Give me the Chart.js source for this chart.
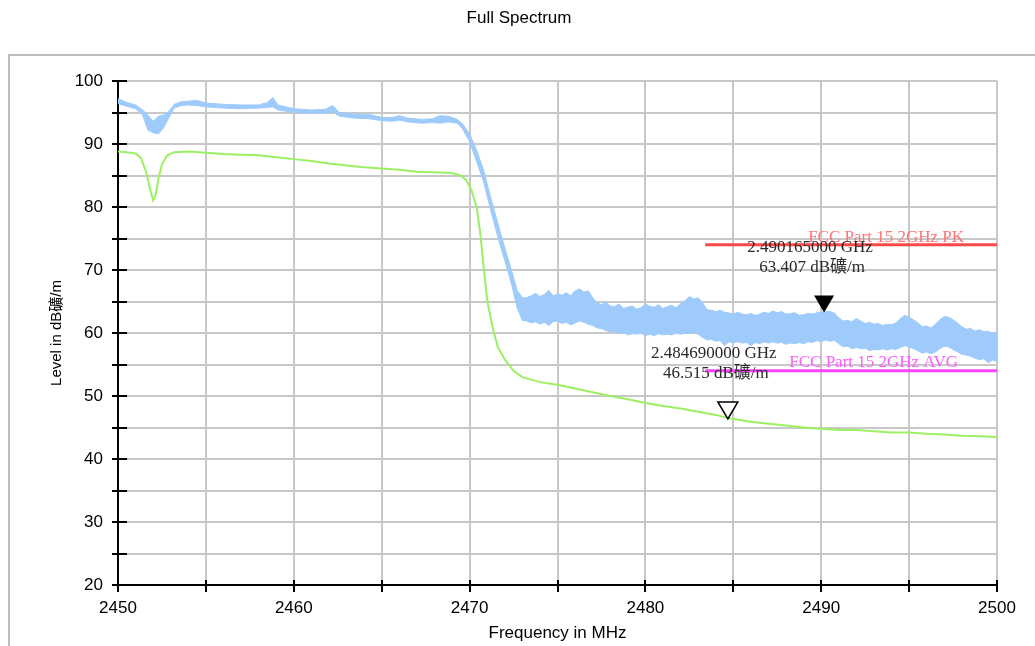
<!DOCTYPE html>
<html>
<head>
<meta charset="utf-8">
<title>Full Spectrum</title>
<script src="https://cdn.jsdelivr.net/npm/chart.js@4.4.0/dist/chart.umd.min.js"></script>
<style>
  html, body { margin: 0; padding: 0; background: #fff; }
  #wrap { width: 1035px; height: 646px; position: relative; }
</style>
</head>
<body>
<div id="wrap"><canvas id="spectrum"></canvas></div>
<script>
// ===== DATA =====
const xTickLabels = [2450, 2460, 2470, 2480, 2490, 2500];
const yTickLabels = [20, 30, 40, 50, 60, 70, 80, 90, 100];

// peak trace (blue) - drawn as a band between the upper and lower edge of the trace
const blueFreq = [
    2450.0, 2450.5, 2451.0, 2451.4, 2451.7, 2452.0, 2452.3, 2452.6, 2452.9, 2453.2,
    2453.6, 2454.0, 2454.5, 2455.0, 2456.0, 2457.0, 2458.0, 2458.5, 2458.8, 2459.1,
    2460.0, 2461.0, 2461.8, 2462.2, 2462.6, 2463.5, 2464.3, 2465.0, 2465.6, 2466.0,
    2466.5, 2467.3, 2467.9, 2468.3, 2468.8, 2469.3, 2469.6, 2470.0, 2470.4, 2470.8,
    2471.2, 2471.6, 2472.0, 2472.4, 2472.7, 2473.0,
    2473.25, 2473.5, 2473.75, 2474, 2474.25, 2474.5, 2474.75, 2475,
    2475.25, 2475.5, 2475.75, 2476, 2476.25, 2476.5, 2476.75, 2477,
    2477.25, 2477.5, 2477.75, 2478, 2478.25, 2478.5, 2478.75, 2479,
    2479.25, 2479.5, 2479.75, 2480, 2480.25, 2480.5, 2480.75, 2481,
    2481.25, 2481.5, 2481.75, 2482, 2482.25, 2482.5, 2482.75, 2483,
    2483.25, 2483.5, 2483.75, 2484, 2484.25, 2484.5, 2484.75, 2485,
    2485.25, 2485.5, 2485.75, 2486, 2486.25, 2486.5, 2486.75, 2487,
    2487.25, 2487.5, 2487.75, 2488, 2488.25, 2488.5, 2488.75, 2489,
    2489.25, 2489.5, 2489.75, 2490, 2490.25, 2490.5, 2490.75, 2491,
    2491.25, 2491.5, 2491.75, 2492, 2492.25, 2492.5, 2492.75, 2493,
    2493.25, 2493.5, 2493.75, 2494, 2494.25, 2494.5, 2494.75, 2495,
    2495.25, 2495.5, 2495.75, 2496, 2496.25, 2496.5, 2496.75, 2497,
    2497.25, 2497.5, 2497.75, 2498, 2498.25, 2498.5, 2498.75, 2499,
    2499.25, 2499.5, 2499.75, 2500
];
const blueHigh = [
    97.2, 96.6, 96.2, 95.4, 94.6, 93.6, 94.4, 94.6, 95.2, 96.3,
    96.7, 96.8, 96.9, 96.5, 96.3, 96.2, 96.2, 96.6, 97.4, 96.2,
    95.6, 95.4, 95.5, 96.1, 95.0, 94.7, 94.7, 94.2, 94.2, 94.5,
    94.1, 93.9, 94.0, 94.5, 94.4, 93.9, 93.2, 91.6, 89.0, 85.8,
    81.5, 77.5, 73.5, 69.8, 66.8, 65.6,
    65.6, 65.9, 66.3, 65.8,  66.1, 66.8, 65.9, 66.2,
    66.0, 66.4, 65.9, 66.7,  67.0, 66.5, 66.7, 65.6,
    64.8, 64.5, 64.9, 64.3,  64.2, 64.6, 63.9, 64.1,
    64.3, 63.8, 64.0, 64.7,  64.2, 64.1, 64.5, 63.9,
    64.2, 64.4, 64.0, 64.7,  65.1, 65.8, 65.4, 65.6,
    64.8, 63.7, 63.6, 63.4,  63.6, 63.3, 63.2, 63.0,
    63.3, 63.0, 62.9, 63.1,  62.8, 63.0, 63.3, 63.1,
    63.5, 63.2, 63.4, 63.0,  63.1, 63.2, 62.8, 62.9,
    63.1, 63.0, 63.2, 63.3,  63.4, 63.4, 63.2, 62.4,
    61.9, 62.0, 61.8, 62.3,  61.9, 61.5, 61.7, 61.4,
    61.5, 61.2, 61.4, 61.3,  61.6, 62.3, 62.8, 62.5,
    62.1, 61.6, 61.0, 61.1,  60.8, 61.4, 62.1, 62.6,
    62.5, 62.1, 61.6, 61.0,  60.6, 60.7, 60.3, 60.5,
    60.2, 60.3, 59.9, 60.2
];
const blueLow = [
    96.4, 96.0, 95.6, 94.6, 92.2, 91.8, 91.6, 92.6, 94.2, 95.7,
    96.1, 96.2, 96.1, 95.9, 95.7, 95.6, 95.7, 95.8, 95.9, 95.4,
    95.0, 94.9, 94.9, 95.1, 94.4, 94.1, 94.0, 93.7, 93.6, 93.8,
    93.5, 93.3, 93.4, 93.3, 93.5, 93.3, 92.4, 90.4, 87.2, 84.0,
    79.5, 75.3, 71.5, 67.6, 64.0, 62.0,
    61.9, 61.6, 61.8, 61.4,  61.7, 61.2, 61.8, 61.9,
    61.5, 61.7, 61.3, 61.6,  61.9, 61.7, 61.4, 61.2,
    60.8, 60.7, 60.4, 60.2,  60.1, 59.9, 60.2, 59.7,
    59.9, 59.8, 60.0, 59.6,  59.8, 59.6, 59.9, 59.7,
    59.8, 59.7, 60.0, 59.8,  60.0, 59.9, 60.1, 59.8,
    59.3, 58.9, 59.0, 58.7,  58.8, 58.0, 58.6, 58.5,
    58.6, 58.4, 58.5, 58.0,  58.5, 58.3, 58.6, 58.4,
    58.6, 58.4, 58.5, 58.2,  58.4, 58.3, 58.5, 58.3,
    58.6, 58.5, 58.8, 58.6,  58.9, 58.7, 58.8, 58.3,
    57.8, 57.9, 57.5, 57.7,  57.5, 57.6, 57.2, 57.4,
    57.3, 57.5, 57.3, 57.5,  57.4, 57.7, 58.0, 57.8,
    57.5, 57.2, 56.8, 57.0,  56.7, 57.0, 57.5, 57.9,
    57.8, 57.4, 57.0, 56.6,  56.5, 56.3, 56.0, 55.8,
    55.9, 55.3, 55.7, 55.5
];

// average trace (green)
const greenFreq = [
    2450.0, 2450.5, 2451.0, 2451.3, 2451.6, 2451.85, 2452.0, 2452.15, 2452.3, 2452.5,
    2452.8, 2453.2, 2454.0, 2455.0, 2456.0, 2457.0, 2458.0, 2459.0, 2460.0, 2461.0,
    2462.0, 2463.0, 2464.0, 2465.0, 2466.0, 2467.0, 2468.0, 2469.0, 2469.5, 2469.8,
    2470.1, 2470.4, 2470.6, 2470.8, 2471.0, 2471.3, 2471.6, 2472.0, 2472.5, 2473.0,
    2474.0, 2475.0, 2476.0, 2477.0, 2478.0, 2479.0, 2480.0, 2481.0, 2482.0, 2483.0,
    2484.0, 2484.69, 2486.0, 2487.0, 2488.0, 2489.0, 2490.0, 2491.0, 2492.0, 2493.0,
    2494.0, 2495.0, 2496.0, 2497.0, 2498.0, 2499.0, 2500.0
];
const greenLevel = [
    88.8, 88.7, 88.5, 87.8, 85.6, 82.5, 81.1, 82.0, 84.5, 86.8,
    88.2, 88.7, 88.8, 88.6, 88.4, 88.3, 88.2, 87.9, 87.6, 87.3,
    86.9, 86.6, 86.3, 86.1, 85.9, 85.6, 85.5, 85.4, 85.0, 84.3,
    82.7, 80.0, 76.0, 70.5, 65.2, 61.0, 57.8, 55.8, 54.0, 53.0,
    52.2, 51.8, 51.2, 50.6, 50.0, 49.5, 48.9, 48.4, 48.0, 47.5,
    47.0, 46.5, 45.9, 45.6, 45.3, 45.0, 44.8, 44.6, 44.6, 44.4,
    44.2, 44.2, 44.0, 43.9, 43.7, 43.6, 43.5
];

// limit lines
const limitFreq = [2483.4, 2500];
const pkLimit = [74, 74];
const avgLimit = [54, 54];
const pkLimitName = 'FCC Part 15 2GHz PK';
const avgLimitName = 'FCC Part 15 2GHz AVG';

// markers: [0] on peak trace (filled), [1] on average trace (open)
const markerFreq = [2490.165, 2484.69];
const markerLevel = [63.407, 46.515];
const markerFreqText = ['2.490165000 GHz', '2.484690000 GHz'];
const markerLevelText = ['63.407 dB礦/m', '46.515 dB礦/m'];

// ===== STYLE =====
const BLUE = '#9ecbfb';
const GREEN = '#9cf062';
const SANS = '"Liberation Sans", Arial, "Noto Sans CJK SC", sans-serif';
const SERIF = '"Liberation Serif", "Noto Sans CJK SC", serif';

Chart.defaults.font.family = SANS;
Chart.defaults.color = '#000';

const toPoints = (xs, ys) => xs.map((x, i) => ({ x: x, y: ys[i] }));

// frame, title, crossing ticks, limit texts and markers
const spectrumDecor = {
    id: 'spectrumDecor',
    beforeDraw(chart) {
        const c = chart.ctx;
        c.save();
        c.fillStyle = '#fff';
        c.fillRect(0, 0, chart.width, chart.height);
        c.strokeStyle = '#bdbdbd';
        c.lineWidth = 2;
        c.strokeRect(9, 55, chart.width + 20, chart.height + 20);
        c.fillStyle = '#000';
        c.font = '17px ' + SANS;
        c.textAlign = 'center';
        c.textBaseline = 'middle';
        c.fillText('Full Spectrum', 519, 18);
        c.restore();
    },
    afterDraw(chart) {
        const c = chart.ctx;
        const xs = chart.scales.x, ys = chart.scales.y;
        const area = chart.chartArea;
        c.save();
        c.strokeStyle = '#000';
        c.lineWidth = 2;
        c.beginPath();
        xs.ticks.forEach(t => {
            const px = Math.round(xs.getPixelForValue(t.value));
            c.moveTo(px, area.bottom - 5);
            c.lineTo(px, area.bottom + 7);
        });
        ys.ticks.forEach(t => {
            const py = Math.round(ys.getPixelForValue(t.value));
            c.moveTo(area.left - 6, py);
            c.lineTo(area.left + 9, py);
        });
        c.stroke();

        // limit names
        c.font = '17px ' + SERIF;
        c.textAlign = 'right';
        c.textBaseline = 'alphabetic';
        c.fillStyle = '#ff7474';
        c.fillText(pkLimitName, area.right - 33, ys.getPixelForValue(pkLimit[1]) - 3);
        c.fillStyle = '#ff5cff';
        c.fillText(avgLimitName, area.right - 39, ys.getPixelForValue(avgLimit[1]) - 4);

        // markers
        markerFreq.forEach((f, i) => {
            const mx = xs.getPixelForValue(f);
            const my = ys.getPixelForValue(markerLevel[i]);
            c.beginPath();
            c.moveTo(mx, my + 1);
            c.lineTo(mx - 10, my - 16);
            c.lineTo(mx + 10, my - 16);
            c.closePath();
            if (i === 0) {
                c.fillStyle = '#000';
                c.fill();
            } else {
                c.fillStyle = '#fff';
                c.fill();
                c.lineWidth = 1.5;
                c.strokeStyle = '#000';
                c.stroke();
            }
            c.fillStyle = '#2a2a2a';
            c.textAlign = 'center';
            c.fillText(markerFreqText[i], mx - 14, my - 60);
            c.fillText(markerLevelText[i], mx - 12, my - 40);
        });
        c.restore();
    }
};

new Chart(document.getElementById('spectrum'), {
    type: 'line',
    data: {
        datasets: [
            { label: avgLimitName, data: toPoints(limitFreq, avgLimit), borderColor: '#ff44ff', borderWidth: 3, order: 1 },
            { label: pkLimitName, data: toPoints(limitFreq, pkLimit), borderColor: '#ff4848', borderWidth: 3, order: 1 },
            { label: 'Average', data: toPoints(greenFreq, greenLevel), borderColor: GREEN, borderWidth: 2, order: 2 },
            { label: 'Peak (low edge)', data: toPoints(blueFreq, blueLow), borderColor: BLUE, borderWidth: 1, order: 3 },
            { label: 'Peak', data: toPoints(blueFreq, blueHigh), borderColor: BLUE, borderWidth: 1,
              backgroundColor: BLUE, fill: '-1', order: 3 }
        ]
    },
    options: {
        responsive: true,
        maintainAspectRatio: false,
        animation: false,
        layout: { padding: { left: 0, right: 38, top: 81, bottom: 0 } },
        elements: {
            point: { radius: 0, hoverRadius: 0 },
            line: { tension: 0 }
        },
        plugins: {
            legend: { display: false },
            tooltip: { enabled: false },
            title: { display: false }
        },
        scales: {
            x: {
                type: 'linear',
                min: 2450,
                max: 2500,
                afterFit: s => { s.height = 61; },
                grid: { color: '#c8c8c8', lineWidth: 2, drawTicks: false },
                border: { color: '#000', width: 2 },
                ticks: {
                    stepSize: 5,
                    autoSkip: false,
                    maxRotation: 0,
                    padding: 13,
                    font: { size: 17 },
                    color: '#000',
                    callback: v => xTickLabels.includes(v) ? String(v) : ''
                },
                title: {
                    display: true,
                    text: 'Frequency in MHz',
                    font: { size: 17 },
                    color: '#000',
                    padding: { top: 0, bottom: 2 }
                }
            },
            y: {
                min: 20,
                max: 100,
                afterFit: s => { s.width = 118; },
                grid: { color: '#c8c8c8', lineWidth: 2, drawTicks: false },
                border: { color: '#000', width: 2 },
                ticks: {
                    stepSize: 5,
                    autoSkip: false,
                    padding: 15,
                    font: { size: 17 },
                    color: '#000',
                    callback: v => yTickLabels.includes(v) ? String(v) : ''
                },
                title: {
                    display: true,
                    text: 'Level in dB礦/m',
                    font: { size: 15 },
                    color: '#000',
                    padding: { top: 48, bottom: 0 }
                }
            }
        }
    },
    plugins: [spectrumDecor]
});
</script>
</body>
</html>
